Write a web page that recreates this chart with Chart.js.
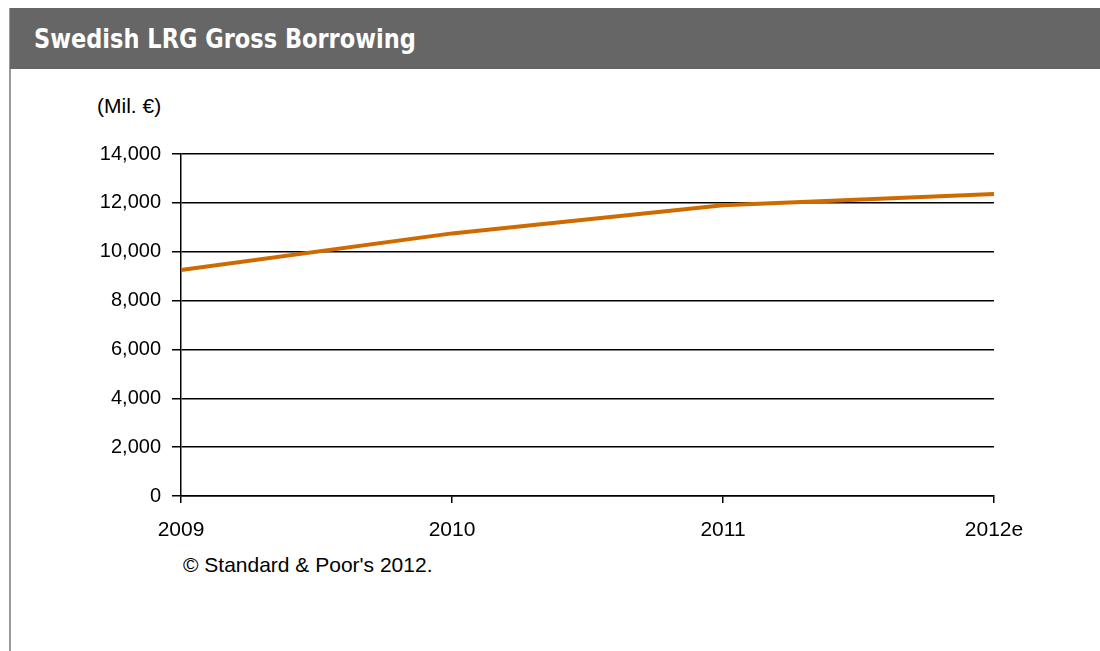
<!DOCTYPE html>
<html>
<head>
<meta charset="utf-8">
<script src="https://cdn.jsdelivr.net/npm/chart.js@4"></script>
<style>
  body { margin: 0; background: #fff; width: 1100px; height: 651px; overflow: hidden; position: relative; font-family: "Liberation Sans", Arial, sans-serif; }
  #header { position: absolute; left: 10px; top: 8px; right: 0; height: 61px; background: #666666; }
  #header span { position: absolute; left: 24px; top: 17px; color: #fff; font: bold 22.5px/1 "DejaVu Sans", Verdana, sans-serif; white-space: nowrap; transform: scaleY(1.2); transform-origin: left top; }
  #border { position: absolute; left: 9px; top: 8px; width: 2px; bottom: 0; background: #9a9a9a; }
  #unit { position: absolute; left: 97px; top: 94px; font-size: 21px; color: #000; }
  #source { position: absolute; left: 183px; top: 553px; font-size: 21px; color: #000; white-space: nowrap; }
  #wrap { position: absolute; left: 0; top: 0; width: 1100px; height: 651px; }
</style>
</head>
<body>
<div id="border"></div>
<div id="header"><span>Swedish LRG Gross Borrowing</span></div>
<div id="unit">(Mil. €)</div>
<div id="source">© Standard &amp; Poor's 2012.</div>
<div id="wrap"><canvas id="chart"></canvas></div>
<script>
// Datos
var years = ['2009', '2010', '2011', '2012e'];
var borrowing = [9250, 10750, 11900, 12360];
var yTicks = [0, 2000, 4000, 6000, 8000, 10000, 12000, 14000];

document.addEventListener('DOMContentLoaded', function() {
    var ctx = document.getElementById('chart').getContext('2d');
    new Chart(ctx, {
        type: 'line',
        data: {
            labels: years,
            datasets: [{
                data: borrowing,
                borderColor: '#cf6a00',
                borderWidth: 4,
                pointRadius: 0,
                tension: 0,
                fill: false
            }]
        },
        options: {
            responsive: true,
            maintainAspectRatio: false,
            animation: false,
            layout: { padding: { left: 0, top: 154, right: 106, bottom: 0 } },
            plugins: { legend: { display: false }, tooltip: { enabled: false } },
            scales: {
                x: {
                    offset: false,
                    grid: { drawOnChartArea: false, color: '#000', tickLength: 7, lineWidth: 1.5 },
                    border: { color: '#000', width: 1.5 },
                    ticks: { color: '#000', font: { family: 'Liberation Sans', size: 21 }, padding: 15, maxRotation: 0 },
                    afterFit: function(s) { s.height = 155; }
                },
                y: {
                    min: 0,
                    max: 14000,
                    afterBuildTicks: function(s) { s.ticks = yTicks.map(function(v) { return { value: v }; }); },
                    grid: { color: '#000', tickLength: 9, lineWidth: 1.5 },
                    border: { color: '#000', width: 1.5 },
                    ticks: {
                        color: '#000',
                        font: { family: 'Liberation Sans', size: 20 },
                        padding: 11,
                        callback: function(v) { return v.toLocaleString('en-US'); }
                    },
                    afterFit: function(s) { s.width = 181; }
                }
            }
        }
    });
});
</script>
</body>
</html>
